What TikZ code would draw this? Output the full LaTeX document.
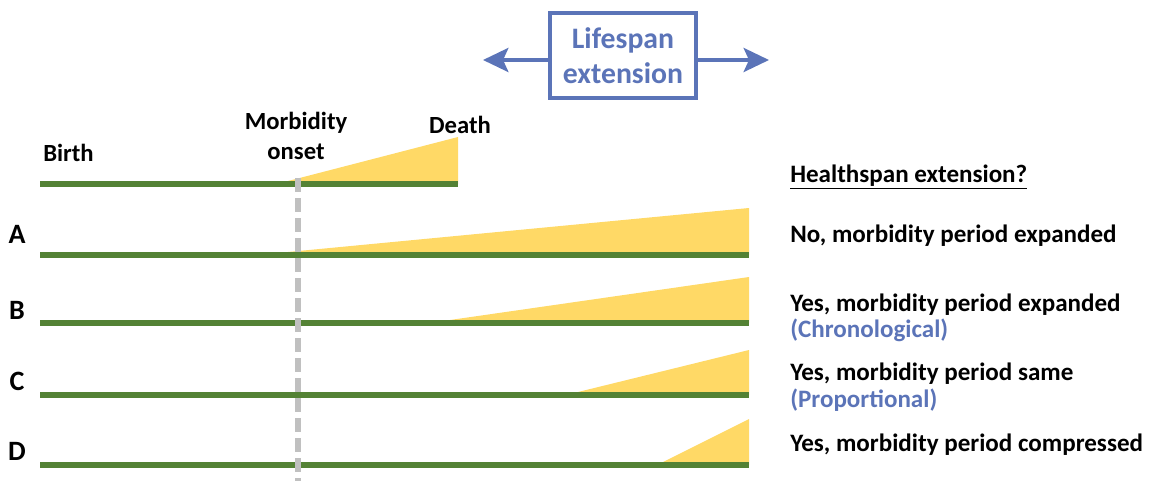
\documentclass[tikz,border=0pt]{standalone}
\usepackage{fontspec}
\setmainfont{Carlito}
\usetikzlibrary{arrows.meta}
\definecolor{bargreen}{HTML}{548235}
\definecolor{morbyellow}{HTML}{FFD966}
\definecolor{lsblue}{HTML}{5B74B8}
\definecolor{dashgray}{HTML}{C0C0C0}
\tikzset{
  bar/.style={line width=4.5pt, draw=bargreen},
  morb/.style={fill=morbyellow, draw=none},
  lbl/.style={font=\bfseries\fontsize{18.5}{20}\selectfont, inner sep=0pt},
  letter/.style={font=\bfseries\fontsize{21}{23}\selectfont, inner sep=0pt},
  ans/.style={font=\bfseries\fontsize{18.8}{21}\selectfont, inner sep=0pt, anchor=west},
  sub/.style={ans, text=lsblue},
  lsarrow/.style={line width=3pt, draw=lsblue, -{Stealth[length=19pt,width=18pt,inset=4pt]}}
}
\begin{document}
\begin{tikzpicture}[x=0.75pt,y=-0.75pt]
\useasboundingbox (0,0) rectangle (1151,481);
% morbidity triangles
\fill[morb] (288,181) -- (458,137) -- (458,184) -- cycle;
\fill[morb] (288,252) -- (749,208) -- (749,255) -- cycle;
\fill[morb] (450,320) -- (749,277) -- (749,323) -- cycle;
\fill[morb] (578,392) -- (749,350) -- (749,395) -- cycle;
\fill[morb] (663,462) -- (749,419) -- (749,465) -- cycle;
% bars
\coordinate (b0s) at (40,184); \coordinate (b0e) at (458,184);
\coordinate (bAs) at (40,255); \coordinate (bAe) at (749,255);
\coordinate (bBs) at (40,323); \coordinate (bBe) at (749,323);
\coordinate (bCs) at (40,395); \coordinate (bCe) at (749,395);
\coordinate (bDs) at (40,465); \coordinate (bDe) at (749,465);
\draw[bar] (b0s) -- (b0e);
\draw[bar] (bAs) -- (bAe);
\draw[bar] (bBs) -- (bBe);
\draw[bar] (bCs) -- (bCe);
\draw[bar] (bDs) -- (bDe);
% dashed line
\coordinate (dtop) at (298,178);
\coordinate (dbot) at (298,481);
\draw[dashgray, line width=4pt, dash pattern=on 10.5pt off 4.5pt] (dtop) -- (dbot);
% labels
\node[lbl, anchor=west] (birth) at (43,153) {Birth};
\node[lbl] (morbid) at (296,123) {Morbidity};
\node[lbl] (onset) at (296,152) {onset};
\node[lbl] (death) at (460,125) {Death};
\node[letter] (lA) at (17,234) {A};
\node[letter] (lB) at (17,310) {B};
\node[letter] (lC) at (17,381) {C};
\node[letter] (lD) at (17,451) {D};
% lifespan box
\node[draw=lsblue, line width=3pt, text=lsblue,
      font=\bfseries\fontsize{22.3}{26}\selectfont, align=center,
      minimum width=109.5pt, minimum height=64pt, inner sep=2pt] (ls) at (623,55.5)
      {Lifespan\\extension};
\coordinate (la) at (483,60);
\coordinate (ra) at (769,60);
\draw[lsarrow] (ls.west |- la) -- (la);
\draw[lsarrow] (ls.east |- ra) -- (ra);
% answers
\node[ans] (hq) at (790,177) {\underline{Healthspan extension?}};
\node[ans] (aA) at (790,236) {No, morbidity period expanded};
\node[ans] (aB) at (790,305) {Yes, morbidity period expanded};
\node[sub] (sB) at (790,330) {(Chronological)};
\node[ans] (aC) at (790,374) {Yes, morbidity period same};
\node[sub] (sC) at (790,400) {(Proportional)};
\node[ans] (aD) at (790,445) {Yes, morbidity period compressed};
\end{tikzpicture}
\end{document}
